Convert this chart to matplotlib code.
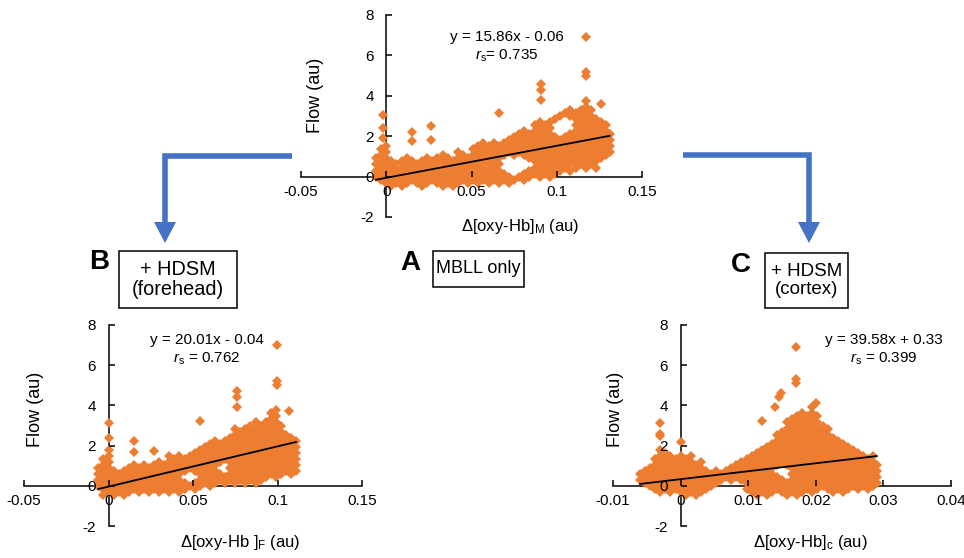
import matplotlib
matplotlib.use('Agg')
import matplotlib.pyplot as plt
from matplotlib.lines import Line2D
from matplotlib.patches import Polygon, Rectangle

plt.rcParams['font.family'] = ['Liberation Sans', 'DejaVu Sans']
plt.rcParams['mathtext.fontset'] = 'custom'
plt.rcParams['mathtext.rm'] = 'Liberation Sans'
plt.rcParams['mathtext.it'] = 'Liberation Sans:italic'
plt.rcParams['axes.unicode_minus'] = False

# ---- panel A: MBLL only ----
A_cols_x = [-0.006, -0.003, 0.000, 0.003, 0.006, 0.009, 0.012, 0.015, 0.018, 0.021,
            0.024, 0.027, 0.030, 0.033, 0.036, 0.039, 0.042, 0.045, 0.048, 0.051,
            0.054, 0.057, 0.060, 0.063, 0.066, 0.069, 0.072, 0.075, 0.078, 0.081,
            0.084, 0.087, 0.090, 0.093, 0.096, 0.099, 0.102, 0.105, 0.108, 0.111,
            0.114, 0.117, 0.120, 0.123, 0.126, 0.129, 0.131]
A_cols_y = [
    [0.0, 0.3, 0.6, 0.9],
    [-0.15, 0.15, 0.45, 0.75, 1.05, 1.35],
    [-0.3, 0.0, 0.3, 0.6, 0.9, 1.2, 1.5],
    [-0.45, -0.15, 0.15, 0.45, 0.75],
    [-0.3, 0.0, 0.3, 0.6],
    [-0.45, -0.15, 0.15, 0.45, 0.75],
    [-0.3, 0.0, 0.3, 0.6, 0.9],
    [-0.15, 0.15, 0.45, 0.75],
    [-0.3, 0.0, 0.3, 0.6],
    [-0.45, -0.15, 0.15, 0.45, 0.75],
    [-0.3, 0.0, 0.3, 0.6, 0.9],
    [-0.15, 0.15, 0.45, 0.75],
    [-0.3, 0.0, 0.3, 0.6, 0.9],
    [-0.45, -0.15, 0.15, 0.45, 0.75, 1.05],
    [-0.3, 0.0, 0.3, 0.6, 0.9],
    [-0.45, -0.15, 0.15, 0.45, 0.75],
    [-0.3, 0.0, 0.3, 0.6, 0.9, 1.2],
    [-0.15, 0.15, 0.45, 0.75, 1.05],
    [-0.3, 0.0, 0.3, 0.6, 0.9],
    [-0.15, 0.15, 0.45, 0.75, 1.05, 1.35],
    [-0.3, 0.0, 0.3, 0.6, 0.9, 1.2, 1.5],
    [-0.15, 0.15, 0.45, 0.75, 1.05, 1.35, 1.65],
    [-0.3, 0.0, 0.3, 0.6, 0.9, 1.2, 1.5],
    [-0.15, 0.15, 0.45, 0.75, 1.05, 1.35, 1.65],
    [-0.3, 0.0, 0.3, 0.6, 0.9, 1.2, 1.5],
    [-0.15, 0.15, 1.05, 1.35, 1.65],
    [-0.3, 0.0, 1.2, 1.5, 1.8],
    [-0.15, 1.05, 1.35, 1.65, 1.95],
    [0.0, 1.2, 1.5, 1.8, 2.1],
    [-0.15, 0.15, 1.05, 1.35, 1.65, 1.95, 2.25],
    [0.0, 0.3, 0.9, 1.2, 1.5, 1.8, 2.1],
    [0.15, 0.45, 0.75, 1.05, 1.35, 1.65, 1.95, 2.25, 2.55],
    [0.0, 0.3, 0.6, 0.9, 1.2, 1.5, 1.8, 2.1, 2.4, 2.7],
    [0.15, 0.45, 0.75, 1.05, 1.35, 1.65, 1.95, 2.25, 2.55],
    [0.0, 0.3, 0.6, 0.9, 1.2, 1.5, 1.8, 2.1, 2.4, 2.7],
    [0.15, 0.45, 0.75, 1.05, 1.35, 1.65, 1.95, 2.85],
    [0.3, 0.6, 0.9, 1.2, 1.5, 1.8, 3.0],
    [0.45, 0.75, 1.05, 1.35, 1.65, 1.95, 3.15],
    [0.3, 0.6, 0.9, 1.2, 1.5, 1.8, 2.1, 3.0, 3.3],
    [0.45, 0.75, 1.05, 1.35, 1.65, 1.95, 2.25, 2.55, 2.85, 3.15],
    [0.6, 0.9, 1.2, 1.5, 1.8, 2.1, 2.4, 2.7, 3.0, 3.3],
    [0.45, 0.75, 1.05, 1.35, 1.65, 1.95, 2.25, 2.55, 2.85, 3.15, 3.45, 3.75],
    [0.6, 0.9, 1.2, 1.5, 1.8, 2.1, 2.4, 2.7, 3.0, 3.3],
    [0.45, 0.75, 1.05, 1.35, 1.65, 1.95, 2.25, 2.55, 2.85],
    [0.9, 1.2, 1.5, 1.8, 2.1, 2.4, 2.7],
    [1.05, 1.35, 1.65, 1.95, 2.25, 2.55],
    [1.2, 1.5, 1.8, 2.1],
]
A_extra_x = [-0.002, -0.002, -0.002, 0.015, 0.015, 0.026, 0.026, 0.066,
             0.091, 0.091, 0.091, 0.117, 0.117, 0.117, 0.126]
A_extra_y = [1.9, 2.4, 3.05, 1.75, 2.2, 1.8, 2.5, 3.15,
             3.8, 4.3, 4.6, 5.0, 5.2, 6.9, 3.6]
A_fit = (15.86, -0.06)
A_rs = 0.735

# ---- panel B: + HDSM (forehead) ----
B_cols_x = [-0.006, -0.003, 0.000, 0.003, 0.006, 0.009, 0.012, 0.015, 0.018, 0.021,
            0.024, 0.027, 0.030, 0.033, 0.036, 0.039, 0.042, 0.045, 0.048, 0.051,
            0.054, 0.057, 0.060, 0.063, 0.066, 0.069, 0.072, 0.075, 0.078, 0.081,
            0.084, 0.087, 0.090, 0.093, 0.096, 0.099, 0.102, 0.105, 0.108, 0.111]
B_cols_y = [
    [0.0, 0.3, 0.6, 0.9],
    [-0.45, -0.15, 0.15, 0.45, 0.75, 1.05, 1.35],
    [-0.3, 0.0, 0.3, 0.6, 0.9, 1.2, 1.5, 1.8],
    [-0.45, -0.15, 0.15, 0.45, 0.75],
    [-0.3, 0.0, 0.3, 0.6],
    [-0.45, -0.15, 0.15, 0.45, 0.75],
    [-0.3, 0.0, 0.3, 0.6, 0.9],
    [-0.15, 0.15, 0.45, 0.75, 1.05],
    [-0.3, 0.0, 0.3, 0.6, 0.9],
    [-0.15, 0.15, 0.45, 0.75, 1.05],
    [-0.3, 0.0, 0.3, 0.6, 0.9],
    [-0.15, 0.15, 0.45, 0.75, 1.05],
    [-0.3, 0.0, 0.3, 0.6, 0.9, 1.2],
    [-0.15, 0.15, 0.45, 0.75, 1.05],
    [-0.3, 0.0, 0.3, 0.6, 0.9, 1.2, 1.5],
    [-0.15, 0.15, 0.45, 0.75, 1.05, 1.35],
    [-0.3, 0.0, 0.3, 0.6, 0.9, 1.2, 1.5],
    [-0.15, 0.15, 0.75, 1.05, 1.35],
    [0.0, 0.9, 1.2, 1.5],
    [-0.15, 0.15, 0.75, 1.05, 1.35, 1.65],
    [0.0, 0.3, 0.6, 0.9, 1.2, 1.5, 1.8],
    [0.15, 0.45, 0.75, 1.05, 1.35, 1.65, 1.95],
    [0.0, 0.3, 0.6, 0.9, 1.2, 1.5, 1.8, 2.1],
    [0.15, 0.45, 0.75, 1.05, 1.35, 1.65, 1.95, 2.25],
    [0.3, 0.6, 1.2, 1.5, 1.8, 2.1],
    [0.15, 0.45, 1.35, 1.65, 1.95, 2.25],
    [0.3, 0.6, 0.9, 1.2, 1.5, 1.8, 2.1, 2.4],
    [0.15, 0.45, 0.75, 1.05, 1.35, 1.65, 1.95, 2.25, 2.55, 2.85],
    [0.3, 0.6, 0.9, 1.2, 1.5, 1.8, 2.1, 2.4, 2.7],
    [0.15, 0.45, 0.75, 1.05, 1.35, 1.65, 1.95, 2.25, 2.55, 2.85],
    [0.3, 0.6, 0.9, 1.2, 1.5, 1.8, 2.1, 2.4, 2.7, 3.0],
    [0.15, 0.45, 0.75, 1.05, 1.35, 1.65, 1.95, 2.25, 2.55, 2.85, 3.15],
    [0.3, 0.6, 0.9, 1.2, 1.5, 1.8, 2.1, 2.4, 2.7, 3.0],
    [0.45, 0.75, 1.05, 1.35, 1.65, 1.95, 2.25, 2.55, 2.85, 3.15],
    [0.6, 0.9, 1.2, 1.5, 1.8, 2.1, 2.4, 2.7, 3.0, 3.3, 3.6],
    [0.45, 0.75, 1.05, 1.35, 1.65, 1.95, 2.25, 2.55, 2.85, 3.15, 3.45, 3.75],
    [0.6, 0.9, 1.2, 1.5, 1.8, 2.1, 2.4, 2.7, 3.0],
    [0.75, 1.05, 1.35, 1.65, 1.95, 2.25, 2.55],
    [0.6, 0.9, 1.2, 1.5, 1.8, 2.1, 2.4],
    [0.75, 1.05, 1.35, 1.65, 1.95, 2.25],
]
B_extra_x = [0.000, 0.000, 0.015, 0.015, 0.027, 0.054, 0.076, 0.076, 0.076,
             0.0995, 0.0995, 0.0995, 0.107]
B_extra_y = [2.4, 3.1, 1.7, 2.25, 1.75, 3.2, 3.9, 4.4, 4.7,
             5.0, 5.2, 7.0, 3.7]
B_fit = (20.01, -0.04)
B_rs = 0.762

# ---- panel C: + HDSM (cortex) ----
C_cols_x = [-0.00600, -0.00525, -0.00450, -0.00375, -0.00300, -0.00225, -0.00150, -0.00075,
            0.00000, 0.00075, 0.00150, 0.00225, 0.00300, 0.00375, 0.00450, 0.00525,
            0.00600, 0.00675, 0.00750, 0.00825, 0.00900, 0.00975, 0.01050, 0.01125,
            0.01200, 0.01275, 0.01350, 0.01425, 0.01500, 0.01575, 0.01650, 0.01725,
            0.01800, 0.01875, 0.01950, 0.02025, 0.02100, 0.02175, 0.02250, 0.02325,
            0.02400, 0.02475, 0.02550, 0.02625, 0.02700, 0.02775, 0.02850, 0.02900]
C_cols_y = [
    [0.3, 0.6],
    [0.15, 0.45, 0.75],
    [0.0, 0.3, 0.6, 0.9],
    [-0.15, 0.15, 0.45, 0.75, 1.05, 1.35],
    [-0.3, 0.0, 0.3, 0.6, 0.9, 1.2, 1.5, 1.8],
    [-0.15, 0.15, 0.45, 0.75, 1.05, 1.35, 1.65],
    [-0.3, 0.0, 0.3, 0.6, 0.9, 1.2, 1.5],
    [-0.15, 0.15, 0.45, 0.75, 1.05, 1.35],
    [-0.3, 0.0, 0.3, 0.6, 0.9, 1.2, 1.5],
    [-0.45, -0.15, 0.15, 0.45, 0.75, 1.05, 1.35],
    [-0.3, 0.0, 0.3, 0.6, 0.9, 1.2, 1.5],
    [-0.45, -0.15, 0.15, 0.45, 0.75, 1.05],
    [-0.3, 0.0, 0.3, 0.6, 0.9, 1.2],
    [-0.15, 0.15, 0.45, 0.75],
    [0.0, 0.3, 0.6],
    [0.15, 0.45, 0.75],
    [0.3, 0.6],
    [0.45, 0.75],
    [0.3, 0.6, 0.9],
    [0.45, 0.75, 1.05],
    [0.3, 0.6, 0.9, 1.2],
    [-0.15, 0.15, 0.45, 0.75, 1.05, 1.35],
    [-0.3, 0.0, 0.3, 0.6, 0.9, 1.2, 1.5],
    [-0.45, -0.15, 0.15, 0.45, 0.75, 1.05, 1.35, 1.65],
    [-0.3, 0.0, 0.3, 0.6, 0.9, 1.2, 1.5, 1.8],
    [-0.45, -0.15, 0.15, 0.45, 0.75, 1.05, 1.35, 1.65, 1.95],
    [-0.3, 0.0, 0.3, 0.6, 0.9, 1.2, 1.5, 1.8, 2.1],
    [-0.15, 0.15, 0.45, 1.05, 1.35, 1.65, 1.95, 2.25, 2.55],
    [-0.3, 0.0, 0.3, 1.2, 1.5, 1.8, 2.1, 2.4, 2.7],
    [-0.45, -0.15, 0.15, 1.05, 1.35, 1.65, 1.95, 2.25, 2.55, 2.85, 3.15],
    [-0.3, 0.0, 0.3, 0.6, 0.9, 1.2, 1.5, 1.8, 2.1, 2.4, 2.7, 3.0, 3.3],
    [-0.45, -0.15, 0.15, 0.45, 0.75, 1.05, 1.35, 1.65, 1.95, 2.25, 2.55, 2.85, 3.15, 3.45],
    [-0.3, 0.0, 0.3, 0.6, 0.9, 1.2, 1.5, 1.8, 2.1, 2.4, 2.7, 3.0, 3.3, 3.6],
    [-0.15, 0.15, 0.45, 0.75, 1.05, 1.35, 1.65, 1.95, 2.25, 2.55, 2.85, 3.15, 3.45],
    [-0.3, 0.0, 0.3, 0.6, 0.9, 1.2, 1.5, 1.8, 2.1, 2.4, 2.7, 3.0, 3.3, 3.6, 3.9],
    [-0.15, 0.15, 0.45, 0.75, 1.05, 1.35, 1.65, 1.95, 2.25, 2.55, 2.85, 3.15, 3.45],
    [0.0, 0.3, 0.6, 0.9, 1.2, 1.5, 1.8, 2.1, 2.4, 2.7, 3.0],
    [-0.15, 0.15, 0.45, 0.75, 1.05, 1.35, 1.65, 1.95, 2.25, 2.55, 2.85],
    [-0.3, 0.0, 0.3, 0.6, 0.9, 1.2, 1.5, 1.8, 2.1, 2.4],
    [-0.15, 0.15, 0.45, 0.75, 1.05, 1.35, 1.65, 1.95, 2.25],
    [-0.3, 0.0, 0.3, 0.6, 0.9, 1.2, 1.5, 1.8, 2.1],
    [-0.15, 0.15, 0.45, 0.75, 1.05, 1.35, 1.65, 1.95],
    [0.0, 0.3, 0.6, 0.9, 1.2, 1.5, 1.8],
    [-0.15, 0.15, 0.45, 0.75, 1.05, 1.35, 1.65],
    [0.0, 0.3, 0.6, 0.9, 1.2, 1.5],
    [-0.15, 0.15, 0.45, 0.75, 1.05, 1.35],
    [0.0, 0.3, 0.6, 0.9, 1.2, 1.5],
    [0.15, 0.45, 0.75, 1.05],
]
C_extra_x = [-0.0031, -0.0031, -0.0031, 0.0000, 0.0120, 0.0140, 0.0145, 0.0148,
             0.0171, 0.0171, 0.0171, 0.0200]
C_extra_y = [2.5, 2.6, 3.1, 2.2, 3.2, 3.9, 4.4, 4.6,
             5.1, 5.3, 6.9, 4.1]
C_fit = (39.58, 0.33)
C_rs = 0.399

ORANGE = '#ED7D31'
BLUE = '#4472C4'
W, H = 964, 558


def fx(px):
    return px / W


def fy(py):
    return 1 - py / H


def flatten(cols_x, cols_y, extra_x, extra_y):
    xs, ys = [], []
    for x, col in zip(cols_x, cols_y):
        xs += [x] * len(col)
        ys += col
    return xs + extra_x, ys + extra_y


def draw_panel(fig, box, xlim, xticks, cols_x, cols_y, extra_x, extra_y, fit,
               xlabel, eq_text, rs_text, eq_pos, xlabel_pos, ylabel_pos):
    left, top, right, bottom = box
    ax = fig.add_axes([fx(left), fy(bottom), (right - left) / W, (bottom - top) / H])
    ax.set_xlim(*xlim)
    ax.set_ylim(-2, 8)
    ax.patch.set_alpha(0)

    xs, ys = flatten(cols_x, cols_y, extra_x, extra_y)
    ax.plot(xs, ys, linestyle='none', marker='D', ms=5.6, mew=0,
            color=ORANGE, zorder=2)

    slope, icpt = fit
    x0, x1 = min(xs), max(xs)
    ax.plot([x0, x1], [slope * x0 + icpt, slope * x1 + icpt], color='black',
            lw=1.3, zorder=4)

    for side in ('top', 'right'):
        ax.spines[side].set_visible(False)
    ax.spines['left'].set_position(('data', 0))
    ax.spines['bottom'].set_position(('data', 0))
    for side in ('left', 'bottom'):
        ax.spines[side].set_linewidth(1.1)
        ax.spines[side].set_zorder(1)
    ax.xaxis.set_zorder(3)
    ax.yaxis.set_zorder(3)

    ax.set_xticks(xticks)
    ax.set_xticklabels(['%g' % t for t in xticks])
    ax.set_yticks([-2, 0, 2, 4, 6, 8])
    ax.tick_params(axis='both', direction='in', length=4, width=1.1, labelsize=11)
    ax.tick_params(axis='x', pad=6)
    ax.tick_params(axis='y', pad=9)

    fig.text(fx(xlabel_pos[0]), fy(xlabel_pos[1]), xlabel, fontsize=12,
             ha='center', va='center')
    fig.text(fx(ylabel_pos[0]), fy(ylabel_pos[1]), 'Flow (au)', fontsize=13,
             rotation=90, ha='center', va='center')
    fig.text(fx(eq_pos[0]), fy(eq_pos[1]), eq_text, fontsize=11,
             ha='center', va='center')
    fig.text(fx(eq_pos[0]), fy(eq_pos[1] + 19), rs_text, fontsize=11,
             ha='center', va='center')
    return ax


def label_box(fig, letter, letter_pos, rect, lines, size):
    fig.text(fx(letter_pos[0]), fy(letter_pos[1]), letter, fontsize=20,
             fontweight='bold', ha='center', va='center')
    l, t, r, b = rect
    fig.add_artist(Rectangle((fx(l), fy(b)), (r - l) / W, (b - t) / H,
                             transform=fig.transFigure, fill=False,
                             ec='black', lw=1.1))
    fig.text(fx((l + r) / 2), fy((t + b) / 2), '\n'.join(lines), fontsize=size,
             ha='center', va='center', linespacing=1.1)


def elbow_arrow(fig, x_start, x_turn, y_line, y_tip):
    fig.add_artist(Line2D([fx(x_start), fx(x_turn), fx(x_turn)],
                          [fy(y_line), fy(y_line), fy(y_tip - 20)],
                          transform=fig.transFigure, color=BLUE, lw=4,
                          solid_joinstyle='miter', solid_capstyle='butt'))
    fig.add_artist(Polygon([(fx(x_turn - 11), fy(y_tip - 21)),
                            (fx(x_turn + 11), fy(y_tip - 21)),
                            (fx(x_turn), fy(y_tip))],
                           closed=True, transform=fig.transFigure,
                           color=BLUE, lw=0))


fig = plt.figure(figsize=(W / 100, H / 100), dpi=100)

draw_panel(fig, (301, 15, 642, 217), (-0.05, 0.15), [-0.05, 0, 0.05, 0.1, 0.15],
           A_cols_x, A_cols_y, A_extra_x, A_extra_y, A_fit,
           'Δ[oxy-Hb]$_\\mathrm{M}$ (au)',
           'y = %.2fx - %.2f' % (A_fit[0], -A_fit[1]),
           '$r_\\mathrm{s}$= %.3f' % A_rs,
           (507, 37), (520, 227), (316, 95))

draw_panel(fig, (24, 325, 362, 526), (-0.05, 0.15), [-0.05, 0, 0.05, 0.1, 0.15],
           B_cols_x, B_cols_y, B_extra_x, B_extra_y, B_fit,
           'Δ[oxy-Hb ]$_\\mathrm{F}$ (au)',
           'y = %.2fx - %.2f' % (B_fit[0], -B_fit[1]),
           '$r_\\mathrm{s}$ = %.3f' % B_rs,
           (207, 340), (240, 542), (36, 409))

draw_panel(fig, (613, 325, 951, 526), (-0.01, 0.04), [-0.01, 0, 0.01, 0.02, 0.03, 0.04],
           C_cols_x, C_cols_y, C_extra_x, C_extra_y, C_fit,
           'Δ[oxy-Hb]$_\\mathrm{c}$ (au)',
           'y = %.2fx + %.2f' % (C_fit[0], C_fit[1]),
           '$r_\\mathrm{s}$ = %.3f' % C_rs,
           (884, 340), (810, 542), (615, 409))

label_box(fig, 'A', (410, 263), (433, 251, 524, 287), ['MBLL only'], 13)
label_box(fig, 'B', (99, 262), (119, 251, 237, 308), ['+ HDSM', '(forehead)'], 14.3)
label_box(fig, 'C', (741, 265), (765, 253, 848, 308), ['+ HDSM', '(cortex)'], 13.5)

elbow_arrow(fig, 292, 165, 156, 243)
elbow_arrow(fig, 683, 809, 155, 243)

fig.savefig('out.png', dpi=100)
